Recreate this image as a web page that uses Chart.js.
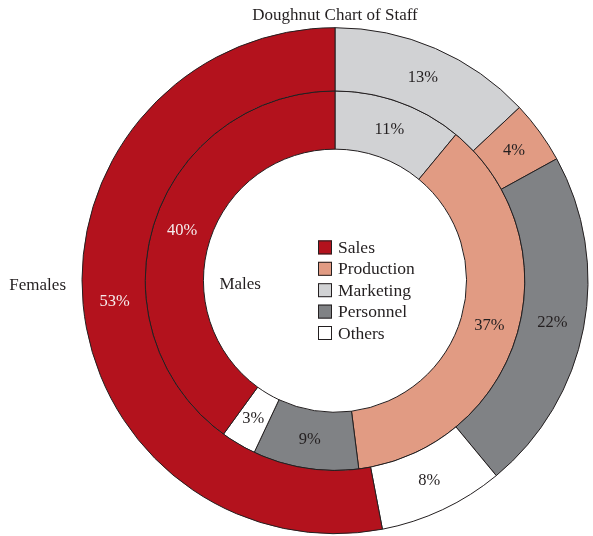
<!DOCTYPE html>
<html>
<head>
<meta charset="utf-8">
<script src="https://cdn.jsdelivr.net/npm/chart.js@4/dist/chart.umd.min.js"></script>
<style>
  html, body { margin: 0; padding: 0; background: #ffffff; }
  #wrap { position: relative; width: 593px; height: 536px; }
</style>
</head>
<body>
<div id="wrap"><canvas id="staff" width="593" height="536"></canvas></div>
<script>
// Slices run clockwise from 12 o'clock in this order
const categories = ['Marketing', 'Production', 'Personnel', 'Others', 'Sales'];
// Order of the entries in the centre key
const legendOrder = ['Sales', 'Production', 'Marketing', 'Personnel', 'Others'];
const seriesNames = ['Females', 'Males'];
const femaleValues = [13, 4, 22, 8, 53];
const maleValues = [11, 37, 9, 3, 40];

const sliceColors = ['#D1D2D4', '#E19B83', '#808285', '#FFFFFF', '#B3121D'];
const valueTextColors = ['#231F20', '#231F20', '#231F20', '#231F20', '#F6EEEE'];
const INK = '#231F20';
const FONT = '"Liberation Serif", "Times New Roman", serif';

// Percent labels, ring names and the key in the hole
const staffLabels = {
  id: 'staffLabels',
  afterDatasetsDraw(chart) {
    const ctx = chart.ctx;
    ctx.save();
    ctx.textBaseline = 'middle';

    // value labels on each slice
    chart.data.datasets.forEach((ds, di) => {
      const meta = chart.getDatasetMeta(di);
      ctx.font = '16.5px ' + FONT;
      ctx.textAlign = 'center';
      meta.data.forEach((arc, i) => {
        const p = arc.getCenterPoint();
        ctx.fillStyle = valueTextColors[i];
        ctx.fillText(ds.data[i] + '%', p.x, p.y);
      });
    });

    const outer = chart.getDatasetMeta(0).data[0];
    const inner = chart.getDatasetMeta(1).data[0];
    const cx = outer.x, cy = outer.y;

    // ring names
    ctx.font = '17px ' + FONT;
    ctx.fillStyle = INK;
    ctx.textAlign = 'right';
    ctx.fillText(seriesNames[0], cx - outer.outerRadius - 16, cy + 5);
    ctx.textAlign = 'left';
    ctx.fillText(seriesNames[1], cx - inner.innerRadius + 16, cy + 4);

    // key
    const rowGap = 21.4;
    const box = 14;
    const x0 = cx - 17;
    const yMid = cy + 9.5 - 2 * rowGap;
    ctx.font = '17.5px ' + FONT;
    legendOrder.forEach((name, r) => {
      const idx = categories.indexOf(name);
      const y = yMid + r * rowGap;
      ctx.fillStyle = sliceColors[idx];
      ctx.fillRect(x0, y - box / 2, box, box);
      ctx.strokeStyle = INK;
      ctx.lineWidth = 1;
      ctx.strokeRect(x0 + 0.5, y - box / 2 + 0.5, box - 1, box - 1);
      ctx.fillStyle = INK;
      ctx.textAlign = 'left';
      ctx.fillText(name, x0 + box + 6, y + 1);
    });
    ctx.restore();
  }
};

new Chart(document.getElementById('staff'), {
  type: 'doughnut',
  data: {
    labels: categories,
    datasets: [
      { label: seriesNames[0], data: femaleValues, backgroundColor: sliceColors,
        borderColor: INK, borderWidth: 1, weight: 63 },
      { label: seriesNames[1], data: maleValues, backgroundColor: sliceColors,
        borderColor: INK, borderWidth: 1, weight: 58 }
    ]
  },
  options: {
    responsive: false,
    animation: false,
    devicePixelRatio: 1,
    radius: 253,
    cutout: '52%',
    layout: { padding: { left: 77, right: 0, top: 0, bottom: 0 } },
    plugins: {
      legend: { display: false },
      tooltip: { enabled: false },
      title: {
        display: true,
        text: 'Doughnut Chart of Staff',
        color: INK,
        font: { family: FONT, size: 17, weight: 'normal' },
        padding: { top: 5, bottom: 0 }
      }
    }
  },
  plugins: [staffLabels]
});
</script>
</body>
</html>
